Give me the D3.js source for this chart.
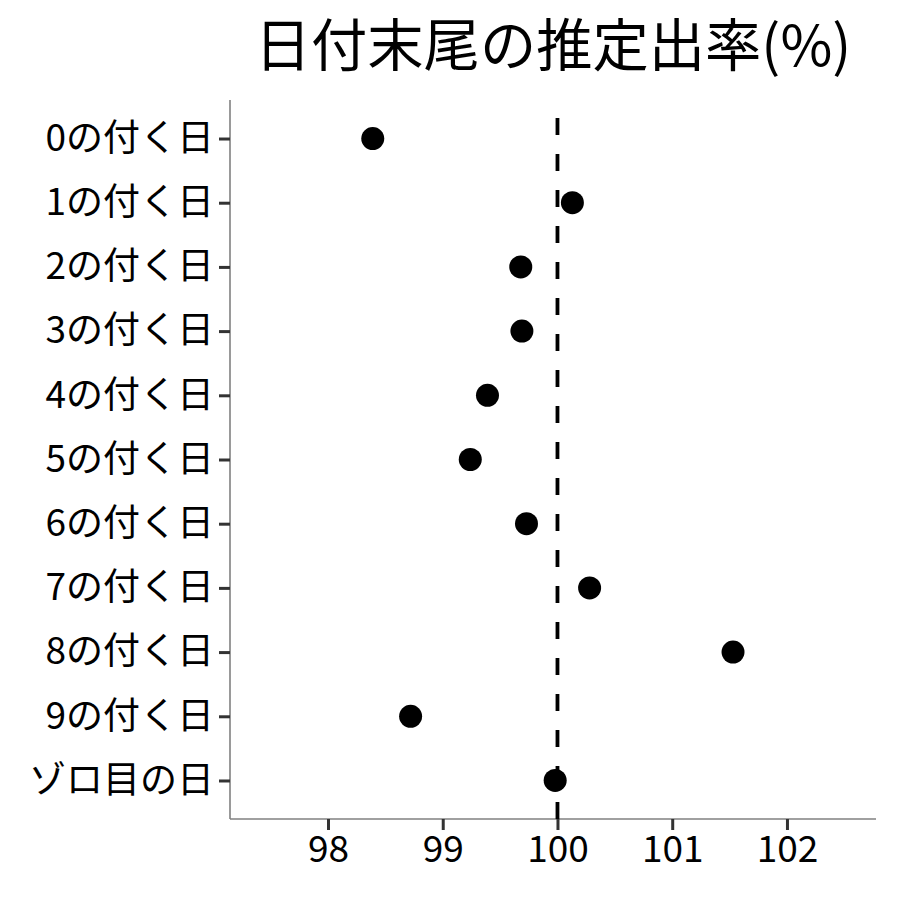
<!DOCTYPE html>
<html>
<head>
<meta charset="utf-8">
<script src="https://cdn.jsdelivr.net/npm/d3@7"></script>
<style>
  body { margin: 0; background: #fff; }
  text { font-family: "Noto Sans CJK JP", "Noto Sans", sans-serif; }
</style>
</head>
<body>
<svg id="chart" width="900" height="900"></svg>
<script>
var categories = ["0の付く日", "1の付く日", "2の付く日", "3の付く日", "4の付く日",
  "5の付く日", "6の付く日", "7の付く日", "8の付く日", "9の付く日", "ゾロ目の日"];
var rates = [98.39, 100.13, 99.68, 99.69, 99.39, 99.24, 99.73, 100.28, 101.53, 98.72, 99.98];
var xTicks = [98, 99, 100, 101, 102];
var reference = 100;
var title = "日付末尾の推定出率(%)";

var margin = {top: 100, right: 24, bottom: 81, left: 230};
var svg = d3.select('#chart');
var W = 900 - margin.left - margin.right;
var H = 900 - margin.top - margin.bottom;

var x = d3.scaleLinear().domain([97.146, 102.776]).range([0, W]);
var y = d3.scalePoint().domain(categories).range([0, H]).padding(0.6);

var g = svg.append('g').attr('transform', 'translate(' + margin.left + ',' + margin.top + ')');

// y axis
var yAxis = g.append('g').call(d3.axisLeft(y).tickSize(11).tickPadding(5));
yAxis.select('.domain').attr('stroke', '#808080').attr('stroke-width', 1.6).attr('d', 'M0,0V' + H);
yAxis.selectAll('.tick line').attr('stroke', '#333').attr('stroke-width', 3);
yAxis.selectAll('.tick text').attr('font-size', 37).attr('fill', '#000');

// x axis
var xAxis = g.append('g').attr('transform', 'translate(0,' + H + ')')
  .call(d3.axisBottom(x).tickValues(xTicks).tickFormat(d3.format('d')).tickSize(11).tickPadding(6));
xAxis.select('.domain').attr('stroke', '#808080').attr('stroke-width', 1.6).attr('d', 'M0,0H' + W);
xAxis.selectAll('.tick line').attr('stroke', '#333').attr('stroke-width', 3);
xAxis.selectAll('.tick text').attr('font-size', 37).attr('fill', '#000');

// reference line
g.append('line')
  .attr('x1', x(reference)).attr('x2', x(reference))
  .attr('y1', H).attr('y2', 0)
  .attr('stroke', '#000').attr('stroke-width', 3.8)
  .attr('stroke-dasharray', '17,19');

// points
g.selectAll('circle.pt').data(rates).enter().append('circle')
  .attr('class', 'pt')
  .attr('cx', function(d){ return x(d); })
  .attr('cy', function(d, i){ return y(categories[i]); })
  .attr('r', 11.5)
  .attr('fill', '#000');

// title
svg.append('text')
  .attr('x', margin.left + W / 2).attr('y', 66)
  .attr('text-anchor', 'middle')
  .attr('font-size', 56.3)
  .attr('fill', '#000')
  .text(title);
</script>
</body>
</html>
